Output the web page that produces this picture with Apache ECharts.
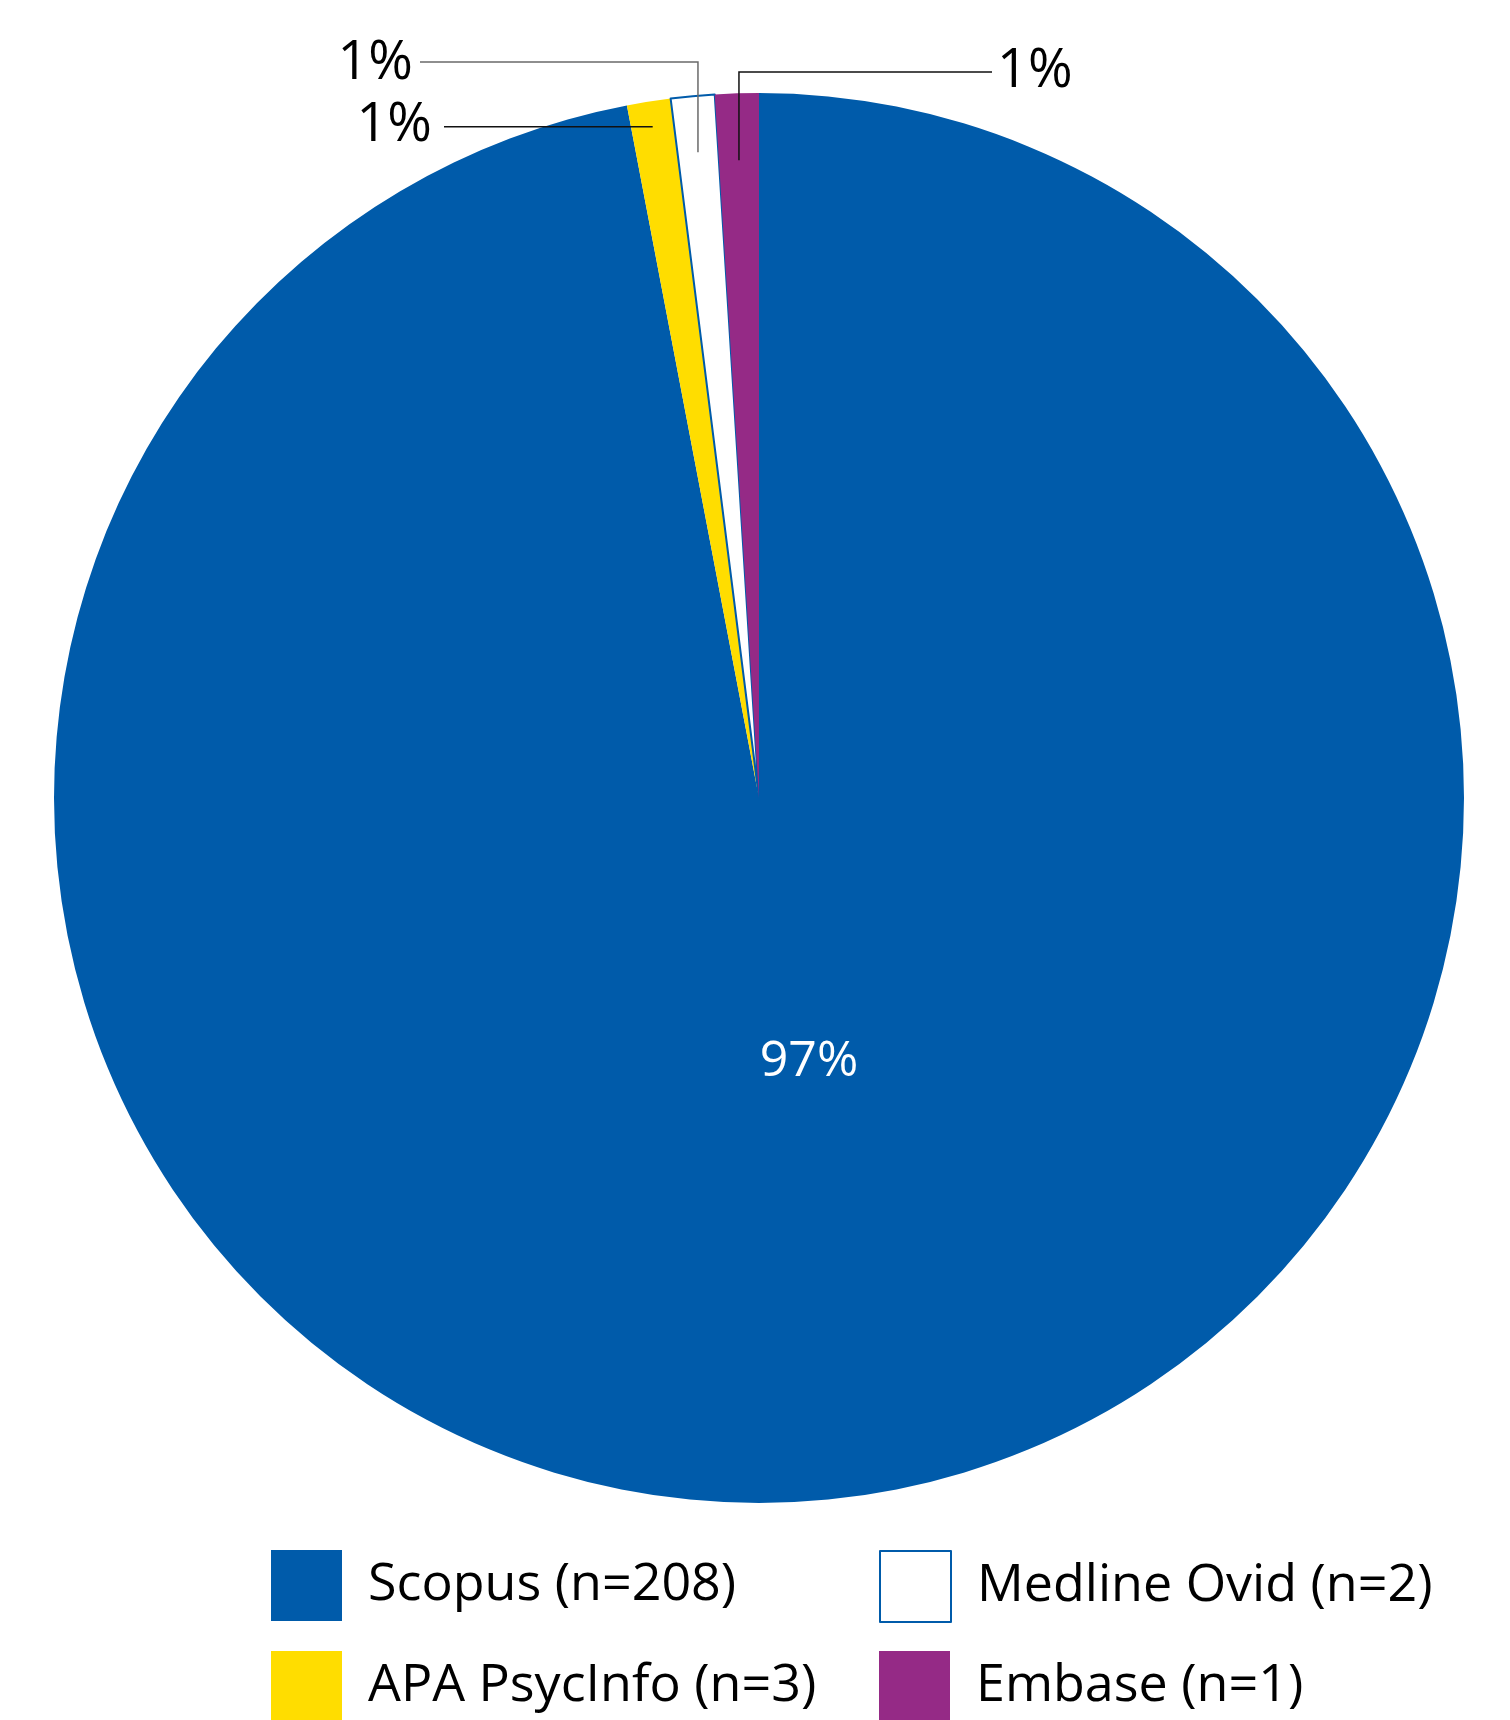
<!DOCTYPE html>
<html>
<head>
<meta charset="utf-8">
<title>Databases searched</title>
<script src="https://cdn.jsdelivr.net/npm/echarts@6/dist/echarts.min.js"></script>
<style>
  html, body { margin: 0; padding: 0; background: #ffffff; }
  #chart { width: 1510px; height: 1720px; }
</style>
</head>
<body>
<div id="chart"></div>
<script>
// Share of retrieved records per database (percent) and raw counts
const databases = ['Scopus', 'APA PsycInfo', 'Medline Ovid', 'Embase'];
const shares = [97, 1, 1, 1];
const counts = [208, 3, 2, 1];
const colors = ['#005BAA', '#FFDD00', '#FFFFFF', '#952A86'];

const CX = 759, CY = 798, R = 705;

// Where each value label sits and how far out its leader line starts
const labelSpots = [
  { x: 809, y: 1062, align: 'center' },
  { x: 432, y: 124, align: 'right', anchorR: 0.964, elbowY: null, endX: 444 },
  { x: 413, y: 64, align: 'right', anchorR: 0.92, elbowY: 62, endX: 420 },
  { x: 997, y: 72, align: 'left', anchorR: 0.905, elbowY: 72, endX: 992 }
];

// Legend boxes: two columns, two rows
const legendSlots = [
  { left: 271, top: 1550 },
  { left: 271, top: 1651 },
  { left: 879, top: 1550 },
  { left: 879, top: 1651 }
];

const total = shares.reduce((a, b) => a + b, 0);
function midAngle(i) {
  let before = 0;
  for (let k = 0; k < i; k++) before += shares[k];
  return ((before + shares[i] / 2) / total) * 2 * Math.PI; // clockwise from 12 o'clock
}
function anchorOf(i) {
  const a = midAngle(i);
  const r = R * labelSpots[i].anchorR;
  return [CX + r * Math.sin(a), CY - r * Math.cos(a)];
}

const chart = echarts.init(document.getElementById('chart'), null, { renderer: 'canvas' });

// Filled slices
const sliceData = databases.map((name, i) => ({
  name: name,
  value: shares[i],
  itemStyle: i === 2
    ? { color: colors[i], borderColor: '#005BAA', borderWidth: 2 }
    : { color: colors[i], borderWidth: 0 }
}));

// Same slices, transparent, carrying the value labels and leader lines on top
const labelData = databases.map((name, i) => ({
  name: name,
  value: shares[i],
  itemStyle: { color: 'rgba(0,0,0,0)', borderWidth: 0 },
  label: i === 0
    ? { position: 'inside', color: '#ffffff', fontSize: 50 }
    : { position: 'outside', color: '#000000', fontSize: 54 },
  labelLine: i === 0
    ? { show: false }
    : { show: true, lineStyle: { color: i === 2 ? '#6a6a6a' : '#111111', width: 1.5 } }
}));

const legends = databases.map((name, i) => ({
  data: [name],
  orient: 'vertical',
  left: legendSlots[i].left,
  top: legendSlots[i].top,
  padding: 0,
  itemWidth: 71,
  itemHeight: 71,
  selectedMode: false,
  icon: 'rect',
  formatter: n => n + ' (n=' + counts[databases.indexOf(n)] + ')',
  textStyle: {
    fontFamily: 'Open Sans',
    fontSize: 52,
    color: '#000000',
    padding: [10, 0, 0, 21]
  }
}));

chart.setOption({
  backgroundColor: '#ffffff',
  animation: false,
  textStyle: { fontFamily: 'Open Sans' },
  legend: legends,
  series: [
    {
      type: 'pie',
      z: 2,
      center: [CX, CY],
      radius: [0, R],
      startAngle: 90,
      clockwise: true,
      silent: true,
      label: { show: false },
      labelLine: { show: false },
      data: sliceData
    },
    {
      type: 'pie',
      z: 5,
      center: [CX, CY],
      radius: [0, R],
      startAngle: 90,
      clockwise: true,
      silent: true,
      avoidLabelOverlap: false,
      legendHoverLink: false,
      label: {
        formatter: p => p.value + '%',
        fontFamily: 'Open Sans'
      },
      labelLayout: function (params) {
        const i = params.dataIndex;
        const spot = labelSpots[i];
        if (i === 0) {
          return { x: spot.x, y: spot.y, align: 'center', verticalAlign: 'middle' };
        }
        const a = anchorOf(i);
        let pts;
        if (spot.elbowY === null) {
          pts = [a, [(a[0] + spot.endX) / 2, a[1]], [spot.endX, a[1]]];
        } else {
          pts = [a, [a[0], spot.elbowY], [spot.endX, spot.elbowY]];
        }
        return {
          x: spot.x,
          y: spot.elbowY === null ? a[1] - 1 : spot.y,
          align: spot.align,
          verticalAlign: 'middle',
          labelLinePoints: pts
        };
      },
      data: labelData
    }
  ]
});
</script>
</body>
</html>
